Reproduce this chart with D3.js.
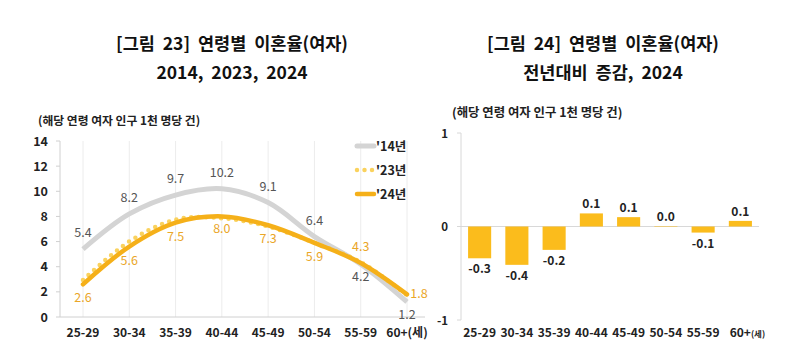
<!DOCTYPE html>
<html>
<head>
<meta charset="utf-8">
<script src="https://cdn.jsdelivr.net/npm/d3@7"></script>
<style>
  body { margin: 0; background: #fff; }
  svg { font-family: "Noto Sans CJK KR", "Noto Sans", sans-serif; }
  .pre { white-space: pre; }
</style>
</head>
<body>
<svg width="792" height="361"></svg>
<script>
const ages = ["25-29", "30-34", "35-39", "40-44", "45-49", "50-54", "55-59", "60+"];
const rate14 = [5.4, 8.2, 9.7, 10.2, 9.1, 6.4, 4.2, 1.2];
const rate23 = [2.94, 6.01, 7.75, 7.86, 7.2, 5.9, 4.36, 1.74];
const rate24 = [2.6, 5.6, 7.5, 8.0, 7.3, 5.9, 4.3, 1.8];
const change = [-0.34, -0.41, -0.25, 0.14, 0.10, 0.005, -0.065, 0.06];
const changeLabels = ["-0.3", "-0.4", "-0.2", "0.1", "0.1", "0.0", "-0.1", "0.1"];
const leftTicks = [0, 2, 4, 6, 8, 10, 12, 14];
const rightTicks = [-1, 0, 1];

const svg = d3.select("svg");
const gray = "#d4d4d4", gold = "#f5b019", dotGold = "#fad25e", barGold = "#fbbc1c";

// titles
function title(x, lines) {
  lines.forEach((t, i) => {
    svg.append("text")
        .attr("class", "pre")
        .attr("x", x).attr("y", 50 + i * 29)
        .attr("text-anchor", "middle")
        .attr("font-size", 17.5).attr("font-weight", "bold")
        .attr("fill", "#111")
        .text(t);
  });
}
title(232, ["[그림  23]  연령별  이혼율(여자)", "2014,  2023,  2024"]);
title(603, ["[그림  24]  연령별  이혼율(여자)", "전년대비  증감,  2024"]);

svg.append("text").attr("x", 38).attr("y", 125)
    .attr("font-size", 11.8).attr("font-weight", "bold").attr("fill", "#222")
    .text("(해당 연령 여자 인구 1천 명당 건)");
svg.append("text").attr("x", 452).attr("y", 117)
    .attr("font-size", 12.4).attr("font-weight", "bold").attr("fill", "#222")
    .text("(해당 연령 여자 인구 1천 명당 건)");

/* left: line chart */
const x1 = d3.scalePoint().domain(ages).range([83, 407]);
const y1 = d3.scaleLinear().domain([0, 14]).range([317, 141]);

const gl = svg.append("g");
gl.selectAll("line.grid").data(ages).enter().append("line")
    .attr("x1", d => x1(d)).attr("x2", d => x1(d))
    .attr("y1", y1(0)).attr("y2", y1(14))
    .attr("stroke", "#ececec");
gl.append("line").attr("x1", 60).attr("x2", 60)
    .attr("y1", y1(0)).attr("y2", y1(14)).attr("stroke", "#d0d0d0");
gl.append("line").attr("x1", 60).attr("x2", 425)
    .attr("y1", y1(0)).attr("y2", y1(0)).attr("stroke", "#d0d0d0");
gl.selectAll("line.tick").data(leftTicks).enter().append("line")
    .attr("x1", 56).attr("x2", 60)
    .attr("y1", d => y1(d)).attr("y2", d => y1(d)).attr("stroke", "#d0d0d0");
gl.selectAll("text.ytick").data(leftTicks).enter().append("text")
    .attr("x", 48).attr("y", d => y1(d) + 4.5)
    .attr("text-anchor", "end").attr("font-size", 12.5).attr("font-weight", "bold")
    .attr("fill", "#222").text(d => d);
gl.selectAll("text.xtick").data(ages).enter().append("text")
    .attr("x", d => x1(d)).attr("y", 337)
    .attr("text-anchor", "middle").attr("font-size", 12).attr("font-weight", "bold")
    .attr("fill", "#222")
    .text(d => d === "60+" ? "60+(세)" : d);

const line = d3.line().x((d, i) => x1(ages[i])).y(d => y1(d)).curve(d3.curveCatmullRom.alpha(0.5));

gl.append("path").attr("d", line(rate14)).attr("fill", "none")
    .attr("stroke", gray).attr("stroke-width", 5);
gl.append("path").attr("d", line(rate23)).attr("fill", "none")
    .attr("stroke", dotGold).attr("stroke-width", 4.5)
    .attr("stroke-dasharray", "0 7.5").attr("stroke-linecap", "round");
gl.append("path").attr("d", line(rate24)).attr("fill", "none")
    .attr("stroke", gold).attr("stroke-width", 4.5).attr("stroke-linecap", "round");

// labels
const off14 = [-12, -12, -12, -12, -12, -12, 17, 17];
gl.selectAll("text.l14").data(rate14).enter().append("text")
    .attr("x", (d, i) => x1(ages[i])).attr("y", (d, i) => y1(d) + off14[i])
    .attr("text-anchor", "middle").attr("font-size", 12.5).attr("fill", "#555")
    .text(d => d.toFixed(1));
const off24 = [18, 18, 18, 17, 18, 18, -12, 4];
const dx24 = [0, 0, 0, 0, 0, 0, 0, 12];
gl.selectAll("text.l24").data(rate24).enter().append("text")
    .attr("x", (d, i) => x1(ages[i]) + dx24[i]).attr("y", (d, i) => y1(d) + off24[i])
    .attr("text-anchor", "middle").attr("font-size", 12.5).attr("fill", "#eaa628")
    .text(d => d.toFixed(1));

// legend
const legend = [
  { name: "'14년", color: gray, dash: null, w: 5 },
  { name: "'23년", color: dotGold, dash: "0 7.5", w: 4.5 },
  { name: "'24년", color: gold, dash: null, w: 4.5 }
];
const lg = gl.selectAll("g.legend").data(legend).enter().append("g")
    .attr("transform", (d, i) => `translate(357,${146 + i * 24})`);
lg.append("line").attr("x1", 0).attr("x2", 17)
    .attr("stroke", d => d.color).attr("stroke-width", d => d.w)
    .attr("stroke-dasharray", d => d.dash).attr("stroke-linecap", "round");
lg.append("text").attr("x", 19).attr("y", 5)
    .attr("font-size", 12.5).attr("font-weight", "bold").attr("fill", "#222")
    .text(d => d.name);

/* right: bar chart */
const x2 = d3.scaleBand().domain(ages).range([461, 759]).paddingInner(0.38).paddingOuter(0.19);
const y2 = d3.scaleLinear().domain([-1, 1]).range([320, 133]);

const gr = svg.append("g");
gr.append("line").attr("x1", 461).attr("x2", 461)
    .attr("y1", y2(-1)).attr("y2", y2(1)).attr("stroke", "#d8d8d8");
gr.selectAll("line.tick").data(rightTicks).enter().append("line")
    .attr("x1", 457).attr("x2", 461)
    .attr("y1", d => y2(d)).attr("y2", d => y2(d)).attr("stroke", "#d8d8d8");
gr.append("line").attr("x1", 461).attr("x2", 759)
    .attr("y1", y2(0)).attr("y2", y2(0)).attr("stroke", "#d8d8d8");
gr.selectAll("text.ytick").data(rightTicks).enter().append("text")
    .attr("x", 448).attr("y", d => y2(d) + 4.5)
    .attr("text-anchor", "end").attr("font-size", 11.5).attr("font-weight", "bold")
    .attr("fill", "#222").text(d => d);

gr.selectAll("rect").data(change).enter().append("rect")
    .attr("x", (d, i) => x2(ages[i]))
    .attr("width", x2.bandwidth())
    .attr("y", d => y2(Math.max(0, d)))
    .attr("height", d => Math.abs(y2(d) - y2(0)))
    .attr("fill", barGold);

gr.selectAll("text.val").data(change).enter().append("text")
    .attr("x", (d, i) => x2(ages[i]) + x2.bandwidth() / 2)
    .attr("y", d => d < 0 ? y2(d) + 15 : y2(d) - 5)
    .attr("text-anchor", "middle").attr("font-size", 12).attr("font-weight", "bold")
    .attr("fill", "#222")
    .text((d, i) => changeLabels[i]);

const xt = gr.selectAll("text.xtick").data(ages).enter().append("text")
    .attr("x", d => x2(d) + x2.bandwidth() / 2 + (d === "60+" ? 7 : 0)).attr("y", 337)
    .attr("text-anchor", "middle").attr("font-size", 12).attr("font-weight", "bold")
    .attr("fill", "#222");
xt.append("tspan").text(d => d);
xt.filter(d => d === "60+").append("tspan").attr("font-size", 8.5).text("(세)");
</script>
</body>
</html>
